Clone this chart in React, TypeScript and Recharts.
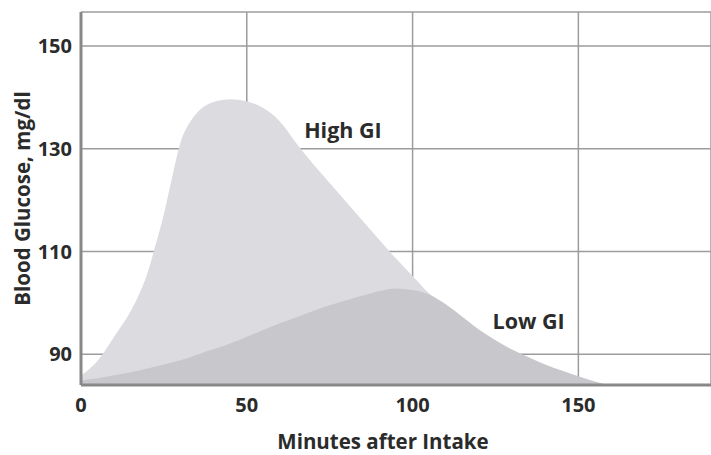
import React from "react";
import {
  AreaChart,
  Area,
  XAxis,
  YAxis,
  CartesianGrid,
  ReferenceDot,
  Label,
} from "recharts";

const minutes = [0, 5, 10, 15, 17.5, 20, 22.5, 25, 27.5, 30, 32.5, 35, 40, 45, 50, 55, 60, 65, 70, 75, 80, 85, 90, 95, 100, 105, 110, 115, 120, 125, 130, 135, 140, 145, 150, 155, 159];
const highGi = [85.8, 88.7, 93.4, 98.4, 101.6, 105.7, 111.3, 117.3, 124.5, 131.2, 134.8, 137, 139.1, 139.6, 139.2, 137.9, 135.3, 131, 127, 123.3, 119.6, 115.9, 112.2, 108.6, 105.2, 101.8, 99.3, 96.8, 94.3, 92.3, 90.4, 88.9, 87.5, 86.3, 85.3, 84.4, 84];
const lowGi = [84.9, 85.3, 85.9, 86.5, 86.8, 87.2, 87.6, 88, 88.4, 88.8, 89.3, 89.9, 91, 92.1, 93.4, 94.7, 96, 97.2, 98.4, 99.5, 100.5, 101.4, 102.3, 102.8, 102.5, 101.6, 99.7, 97.3, 94.8, 92.7, 90.9, 89.4, 88, 86.8, 85.7, 84.7, 84];

const xTicks = [0, 50, 100, 150];
const yTicks = [90, 110, 130, 150];

const data = minutes.map((m, i) => ({ minute: m, high: highGi[i], low: lowGi[i] }));

const FONT = "'Open Sans', Lato, sans-serif";
const TEXT = "#2b2b2b";
const AXIS = "#888888";
const GRID = "#9c9c9c";

const tickStyle = { fill: TEXT, fontSize: 20, fontWeight: 700, fontFamily: FONT };

export default function App() {
  return (
    <div style={{ width: 711, height: 455, background: "#fff" }}>
      <style>{`body{margin:0}`}</style>
      <AreaChart
        width={711}
        height={455}
        data={data}
        margin={{ top: 12, right: 0, left: 0, bottom: 0 }}
        style={{ fontFamily: FONT }}
      >
        <CartesianGrid stroke={GRID} strokeWidth={1.5} />

        <XAxis
          dataKey="minute"
          type="number"
          domain={[0, 190]}
          ticks={xTicks}
          height={70}
          tickLine={false}
          tickSize={0}
          tickMargin={13}
          tick={tickStyle}
          axisLine={{ stroke: AXIS, strokeWidth: 3 }}
        >
          <Label
            value="Minutes after Intake"
            position="insideBottom"
            offset={6}
            dx={-13}
            fill={TEXT}
            fontSize={20.5}
            fontWeight={700}
            fontFamily={FONT}
          />
        </XAxis>
        <XAxis
          xAxisId="top"
          orientation="top"
          type="number"
          domain={[0, 190]}
          height={0}
          tick={false}
          tickLine={false}
          axisLine={{ stroke: AXIS, strokeWidth: 3 }}
        />
        <YAxis
          type="number"
          domain={[84, 156.6]}
          allowDataOverflow
          ticks={yTicks}
          width={81}
          tickLine={false}
          tickSize={0}
          tickMargin={9}
          tick={tickStyle}
          axisLine={{ stroke: AXIS, strokeWidth: 3 }}
        >
          <Label
            value="Blood Glucose, mg/dl"
            angle={-90}
            position="insideLeft"
            offset={23}
            fill={TEXT}
            fontSize={20.5}
            fontWeight={700}
            fontFamily={FONT}
            style={{ textAnchor: "middle" }}
          />
        </YAxis>

        <Area
          type="monotone"
          dataKey="high"
          name="High GI"
          stroke="none"
          fill="#dcdce0"
          fillOpacity={1}
          baseValue="dataMin"
          dot={false}
          activeDot={false}
          isAnimationActive={false}
        />
        <Area
          type="monotone"
          dataKey="low"
          name="Low GI"
          stroke="none"
          fill="#c8c8cc"
          fillOpacity={1}
          baseValue="dataMin"
          dot={false}
          activeDot={false}
          isAnimationActive={false}
        />

        {/* curve labels */}
        <ReferenceDot
          x={79}
          y={133.5}
          r={0}
          stroke="none"
          fill="none"
          label={{ value: "High GI", position: "center", fill: TEXT, fontSize: 21.5, fontWeight: 700, fontFamily: FONT }}
        />
        <ReferenceDot
          x={135}
          y={96.4}
          r={0}
          stroke="none"
          fill="none"
          label={{ value: "Low GI", position: "center", fill: TEXT, fontSize: 21.5, fontWeight: 700, fontFamily: FONT }}
        />
      </AreaChart>
    </div>
  );
}
